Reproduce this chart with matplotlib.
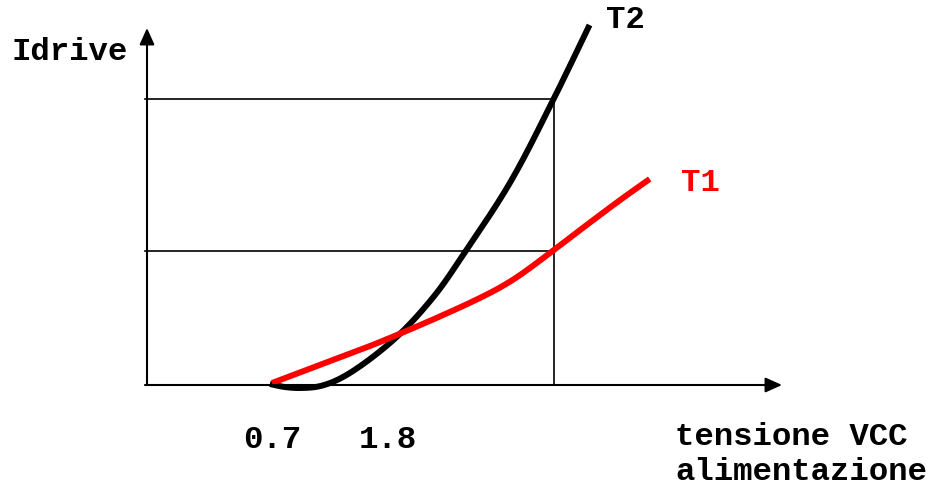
import matplotlib
matplotlib.use("Agg")
import matplotlib.pyplot as plt
import numpy as np

# Data (voltage in V, Idrive in arbitrary units)
t2_v = [0.68, 0.82, 0.97, 1.16, 1.39, 1.85, 2.23, 2.53, 2.96, 3.36, 3.71]
t2_i = [0.01, -0.02, -0.03, -0.01, 0.09, 0.45, 0.88, 1.33, 2.03, 2.84, 3.60]
t1_v = [0.70, 1.25, 1.77, 2.67, 2.98, 3.36, 3.62, 4.00, 4.28]
t1_i = [0.02, 0.24, 0.45, 0.87, 1.05, 1.34, 1.55, 1.85, 2.06]
ref_v = 3.37          # reference VCC (vertical guide)
ref_hi = 2.86         # T2 current at reference VCC
ref_lo = 1.34         # T1 current at reference VCC
tick_vals = [0.7, 1.8]
tick_labels = ["0.7", "1.8"]


def smooth(xs, ys, n=20):
    """Centripetal Catmull-Rom curve through the given points (for drawing only)."""
    p = np.column_stack([xs, ys]).astype(float)
    p = np.vstack([p[0] - (p[1] - p[0]), p, p[-1] + (p[-1] - p[-2])])
    out = []
    for i in range(1, len(p) - 2):
        P0, P1, P2, P3 = p[i - 1], p[i], p[i + 1], p[i + 2]
        t0 = 0.0
        t1 = t0 + np.linalg.norm(P1 - P0) ** 0.5
        t2 = t1 + np.linalg.norm(P2 - P1) ** 0.5
        t3 = t2 + np.linalg.norm(P3 - P2) ** 0.5
        t = np.linspace(t1, t2, n, endpoint=False)[:, None]
        A1 = (t1 - t) / (t1 - t0) * P0 + (t - t0) / (t1 - t0) * P1
        A2 = (t2 - t) / (t2 - t1) * P1 + (t - t1) / (t2 - t1) * P2
        A3 = (t3 - t) / (t3 - t2) * P2 + (t - t2) / (t3 - t2) * P3
        B1 = (t2 - t) / (t2 - t0) * A1 + (t - t0) / (t2 - t0) * A2
        B2 = (t3 - t) / (t3 - t1) * A2 + (t - t1) / (t3 - t1) * A3
        C = (t2 - t) / (t2 - t1) * B1 + (t - t1) / (t2 - t1) * B2
        out.append(C)
    out.append(p[-2][None, :])
    c = np.vstack(out)
    return c[:, 0], c[:, 1]


fig = plt.figure(figsize=(9.26, 4.86), dpi=100)
ax = fig.add_axes([0, 0, 1, 1])
# map: px = 272 + (v-0.7)*105.5 ; py = 385 - I*100
vx = lambda px: 0.7 + (px - 272) / 105.5
iy = lambda py: (385 - py) / 100
ax.set_xlim(vx(0), vx(926))
ax.set_ylim(iy(486), iy(0))
ax.axis("off")

x0 = vx(145)
mono = dict(family="Liberation Mono", weight="bold", fontsize=23.3)

# axes with arrows
ax.annotate("", xy=(vx(782), 0), xytext=(x0, 0),
            arrowprops=dict(arrowstyle="-|>,head_length=1.0,head_width=0.45", lw=1.5, color="black",
                            shrinkA=0, shrinkB=0))
ax.annotate("", xy=(vx(147), iy(28)), xytext=(vx(147), 0),
            arrowprops=dict(arrowstyle="-|>,head_length=1.0,head_width=0.45", lw=1.5, color="black",
                            shrinkA=0, shrinkB=0))

# guide lines
ax.plot([x0, ref_v], [ref_hi, ref_hi], color="black", lw=1.2)
ax.plot([x0, ref_v], [ref_lo, ref_lo], color="black", lw=1.2)
ax.plot([ref_v, ref_v], [0, ref_hi], color="black", lw=1.2)

# curves
sx, sy = smooth(t2_v, t2_i)
ax.plot(sx, sy, color="black", lw=4.3, solid_joinstyle="round", solid_capstyle="butt")
sx, sy = smooth(t1_v, t1_i)
ax.plot(sx, sy, color="#ff0000", lw=4.3, solid_joinstyle="round", solid_capstyle="butt")

# labels
ax.text(vx(11), iy(52), "Idrive", ha="left", va="center", **mono)
ax.text(vx(606), iy(20), "T2", ha="left", va="center", **mono)
ax.text(vx(681), iy(183), "T1", ha="left", va="center", color="#ff0000", **mono)
for v, lab in zip(tick_vals, tick_labels):
    ax.text(v, iy(440), lab, ha="center", va="center", **mono)
ax.text(vx(675), iy(437), "tensione VCC", ha="left", va="center", **mono)
ax.text(vx(675), iy(472), "alimentazione", ha="left", va="center", **mono)

fig.savefig("out.png", dpi=100)
